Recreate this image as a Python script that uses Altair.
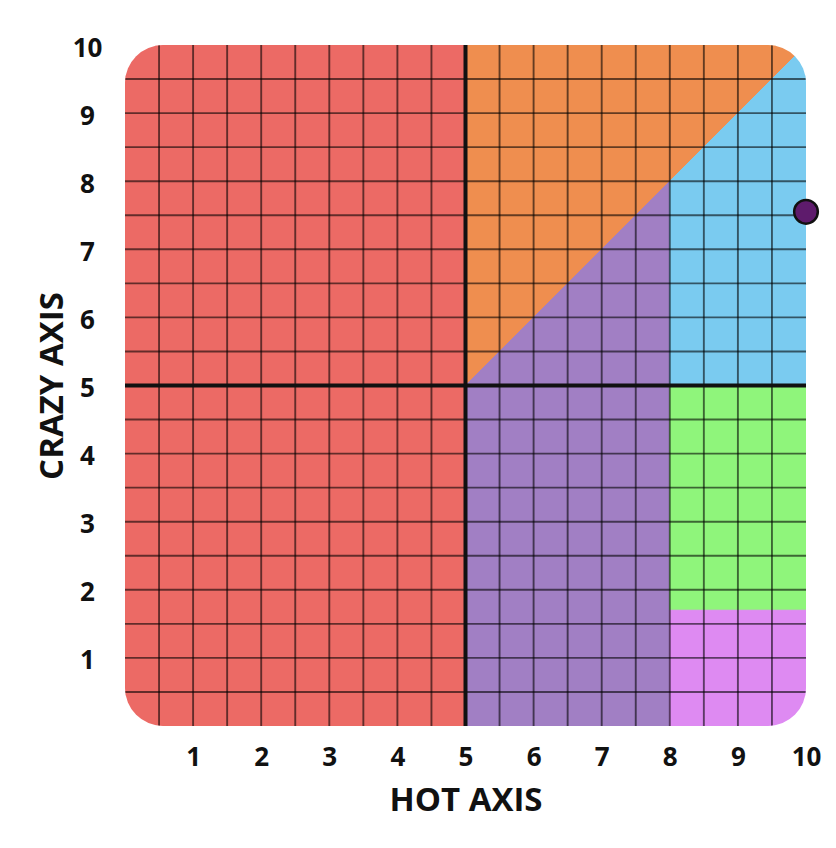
import altair as alt
import pandas as pd

# ---- data ----
region_names = ["red", "orange", "purple", "blue", "green", "pink"]
region_colors = ["#EC6A65", "#EF8E4F", "#A17FC4", "#7ACBF0", "#8FF57B", "#DE8AF2"]
# each region as an area: x points, lower y, upper y
region_x = {
    "red": [0, 5],
    "orange": [5, 10],
    "purple": [5, 8],
    "blue": [8, 10],
    "green": [8, 10],
    "pink": [8, 10],
}
region_lo = {
    "red": [0, 0],
    "orange": [5, 10],
    "purple": [0, 0],
    "blue": [5, 5],
    "green": [1.7, 1.7],
    "pink": [0, 0],
}
region_hi = {
    "red": [10, 10],
    "orange": [10, 10],
    "purple": [5, 8],
    "blue": [8, 10],
    "green": [5, 5],
    "pink": [1.7, 1.7],
}
grid_values = [0.5, 1, 1.5, 2, 2.5, 3, 3.5, 4, 4.5, 5, 5.5, 6, 6.5, 7, 7.5, 8, 8.5, 9, 9.5]
axis_center = [5]
tick_values = [1, 2, 3, 4, 5, 6, 7, 8, 9, 10]
point_x = [10]
point_y = [7.55]

FONT = "Open Sans"
W = 681
H = 681
R = 38

rows = []
for r in region_names:
    for xv, lo, hi in zip(region_x[r], region_lo[r], region_hi[r]):
        rows.append({"region": r, "x": xv, "lo": lo, "hi": hi})
regions_df = pd.DataFrame(rows)
grid_df = pd.DataFrame({"v": grid_values})
center_df = pd.DataFrame({"v": axis_center})
point_df = pd.DataFrame({"x": point_x, "y": point_y})

# rounded-rectangle clip path for the plotting area
clip_path = (
    f"M{R},0 H{W - R} A{R},{R} 0 0 1 {W},{R} V{H - R} A{R},{R} 0 0 1 {W - R},{H} "
    f"H{R} A{R},{R} 0 0 1 0,{H - R} V{R} A{R},{R} 0 0 1 {R},0 Z"
)
CLIP = {"expr": f"pathShape('{clip_path}')"}

xscale = alt.Scale(domain=[0, 10], nice=False, zero=False)
yscale = alt.Scale(domain=[0, 10], nice=False, zero=False)
cscale = alt.Scale(domain=region_names, range=region_colors)

x_axis = alt.Axis(
    values=tick_values, format="d", grid=False, domain=False, ticks=False,
    labelOverlap=False, labelFlush=False,
    labelFont=FONT, labelFontSize=26, labelFontWeight="bold", labelColor="#111111",
    labelPadding=18, title="HOT AXIS", titleFont=FONT, titleFontSize=33,
    titleFontWeight="bold", titleColor="#111111", titleY=58,
)
y_axis = alt.Axis(
    values=tick_values, format="d", grid=False, domain=False, ticks=False,
    labelOverlap=False, labelFlush=False,
    labelFont=FONT, labelFontSize=26, labelFontWeight="bold", labelColor="#111111",
    labelPadding=38, labelAlign="center", labelOffset=3,
    title="CRAZY AXIS", titleFont=FONT, titleFontSize=33,
    titleFontWeight="bold", titleColor="#111111", titleX=-56,
)

areas = alt.Chart(regions_df).mark_area(clip=CLIP, strokeWidth=1, opacity=1).encode(
    x=alt.X("x:Q", scale=xscale, axis=x_axis),
    y=alt.Y("lo:Q", scale=yscale, axis=y_axis, stack=None),
    y2="hi:Q",
    color=alt.Color("region:N", scale=cscale, legend=None),
    stroke=alt.Stroke("region:N", scale=cscale, legend=None),
    detail="region:N",
)

vgrid = alt.Chart(grid_df).mark_rule(clip=CLIP, color="#000000", opacity=0.58, strokeWidth=1.9).encode(
    x=alt.X("v:Q", scale=xscale)
)
hgrid = alt.Chart(grid_df).mark_rule(clip=CLIP, color="#000000", opacity=0.58, strokeWidth=1.9).encode(
    y=alt.Y("v:Q", scale=yscale)
)
vcenter = alt.Chart(center_df).mark_rule(color="#111111", strokeWidth=4).encode(
    x=alt.X("v:Q", scale=xscale)
)
hcenter = alt.Chart(center_df).mark_rule(color="#111111", strokeWidth=4).encode(
    y=alt.Y("v:Q", scale=yscale)
)
dot = alt.Chart(point_df).mark_point(
    filled=True, shape="circle", size=560, fill="#5E1B6C", stroke="#111111", strokeWidth=2.5, opacity=1
).encode(
    x=alt.X("x:Q", scale=xscale),
    y=alt.Y("y:Q", scale=yscale),
)

chart = alt.layer(areas, vgrid, hgrid, vcenter, hcenter, dot).properties(
    width=W, height=H,
    padding={"left": 117, "top": 37, "right": 22, "bottom": 114},
    autosize=alt.AutoSizeParams(type="none"),
    background="white",
).configure_view(stroke=None)

chart.save("out.html", embed_options={"renderer": "svg", "actions": False})
